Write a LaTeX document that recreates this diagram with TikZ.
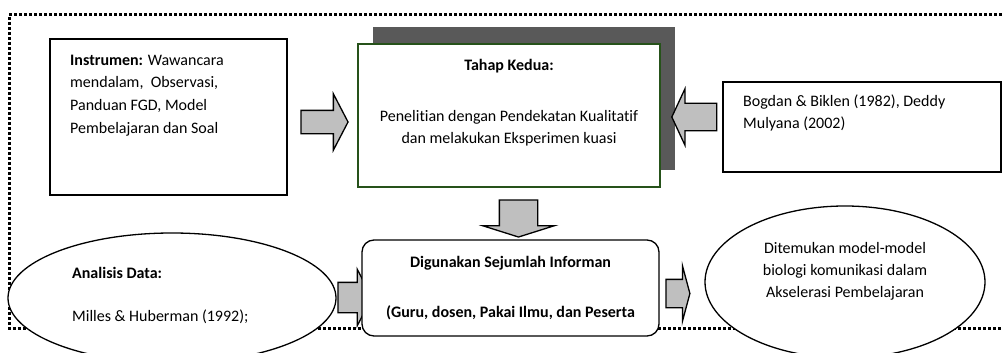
\documentclass[tikz,border=0pt]{standalone}
\usepackage{fontspec}
\setmainfont{Carlito}[Ligatures=CommonOff]
\usetikzlibrary{shapes.geometric,shapes.arrows,shadows}
\definecolor{boxgreen}{RGB}{38,82,26}
\begin{document}
\begin{tikzpicture}[x=1pt,y=-1pt,font=\fontsize{16}{22}\selectfont,
	box/.style={draw,line width=1.3pt,fill=white,inner sep=0pt},
	oval/.style={draw,line width=1.3pt,ellipse,fill=white,inner sep=0pt},
	txt/.style={inner sep=0pt,align=center},
	blockarr/.style={single arrow,draw,line width=1.3pt,fill=black!25,inner xsep=0pt}]
	\useasboundingbox (0,0) rectangle (1002,353);
	% dotted frame, open to the right
	\draw[line width=3pt,dash pattern=on 3pt off 2pt] (1002,15)--(9,15)--(9,328)--(1002,328);
	% top row
	\node[box,minimum width=237,minimum height=156] (instr) at (168.5,117){};
	\node[txt,align=left,anchor=north west,font=\fontsize{16}{22.7}\selectfont] (instrtxt) at (70,54.5){\textbf{Instrumen:} Wawancara\\mendalam,\ \ Observasi,\\Panduan FGD, Model\\Pembelajaran dan Soal};
	\node[box,draw=boxgreen,minimum width=302,minimum height=143,
		drop shadow={shadow xshift=15pt,shadow yshift=17pt,fill=black!65,opacity=1}] (tahap) at (509,115.5){};
	\node[txt,font=\fontsize{16}{22}\selectfont\bfseries] (tahap1) at (509,66){Tahap Kedua:};
	\node[txt] (tahap2) at (509,128){Penelitian dengan Pendekatan Kualitatif\\dan melakukan Eksperimen kuasi};
	\node[box,minimum width=278,minimum height=90] (bogdan) at (862,127){};
	\node[txt,align=left,anchor=north west] (bogdantxt) at (743,95){Bogdan \& Biklen (1982), Deddy\\Mulyana (2002)};
	% block arrows
	\node[blockarr,minimum height=47,inner ysep=11,single arrow head extend=16.5,single arrow tip angle=125] (ar1) at (321.5,122){};
	\node[blockarr,shape border rotate=180,minimum height=45,inner ysep=13,single arrow head extend=14.5,single arrow tip angle=130] (ar2) at (697.5,117){};
	\node[blockarr,shape border rotate=270,minimum height=37,inner xsep=18.5,inner ysep=0pt,single arrow head extend=16.5,single arrow tip angle=145] (ar3) at (518.5,215.5){};
	\node[blockarr,minimum height=34,inner ysep=14.5,single arrow head extend=13,single arrow tip angle=125] (ar4) at (351,297.5){};
	\node[blockarr,minimum height=24,inner ysep=13.5,single arrow head extend=13.5,single arrow tip angle=150] (ar5) at (676,293.5){};
	% bottom row
	\node[oval,minimum width=328,minimum height=130] (anal) at (172,298){};
	\node[txt,align=left,anchor=west,font=\fontsize{16}{22}\selectfont\bfseries] (anal1) at (72,273){Analisis Data:};
	\node[txt,align=left,anchor=west] (anal2) at (72,317){Milles \& Huberman (1992);};
	\node[box,rounded corners=12pt,minimum width=297,minimum height=96] (info) at (510.5,288){};
	\node[txt,font=\fontsize{16}{22}\selectfont\bfseries] (info1) at (510.5,263){Digunakan Sejumlah Informan};
	\node[txt,font=\fontsize{16}{22}\selectfont\bfseries] (info2) at (510.5,313){(Guru, dosen, Pakai Ilmu, dan Peserta};
	\node[oval,minimum width=280,minimum height=152] (hasil) at (845,282){};
	\node[txt] (hasiltxt) at (845,271){Ditemukan model-model\\biologi komunikasi dalam\\Akselerasi Pembelajaran};
\end{tikzpicture}
\end{document}
